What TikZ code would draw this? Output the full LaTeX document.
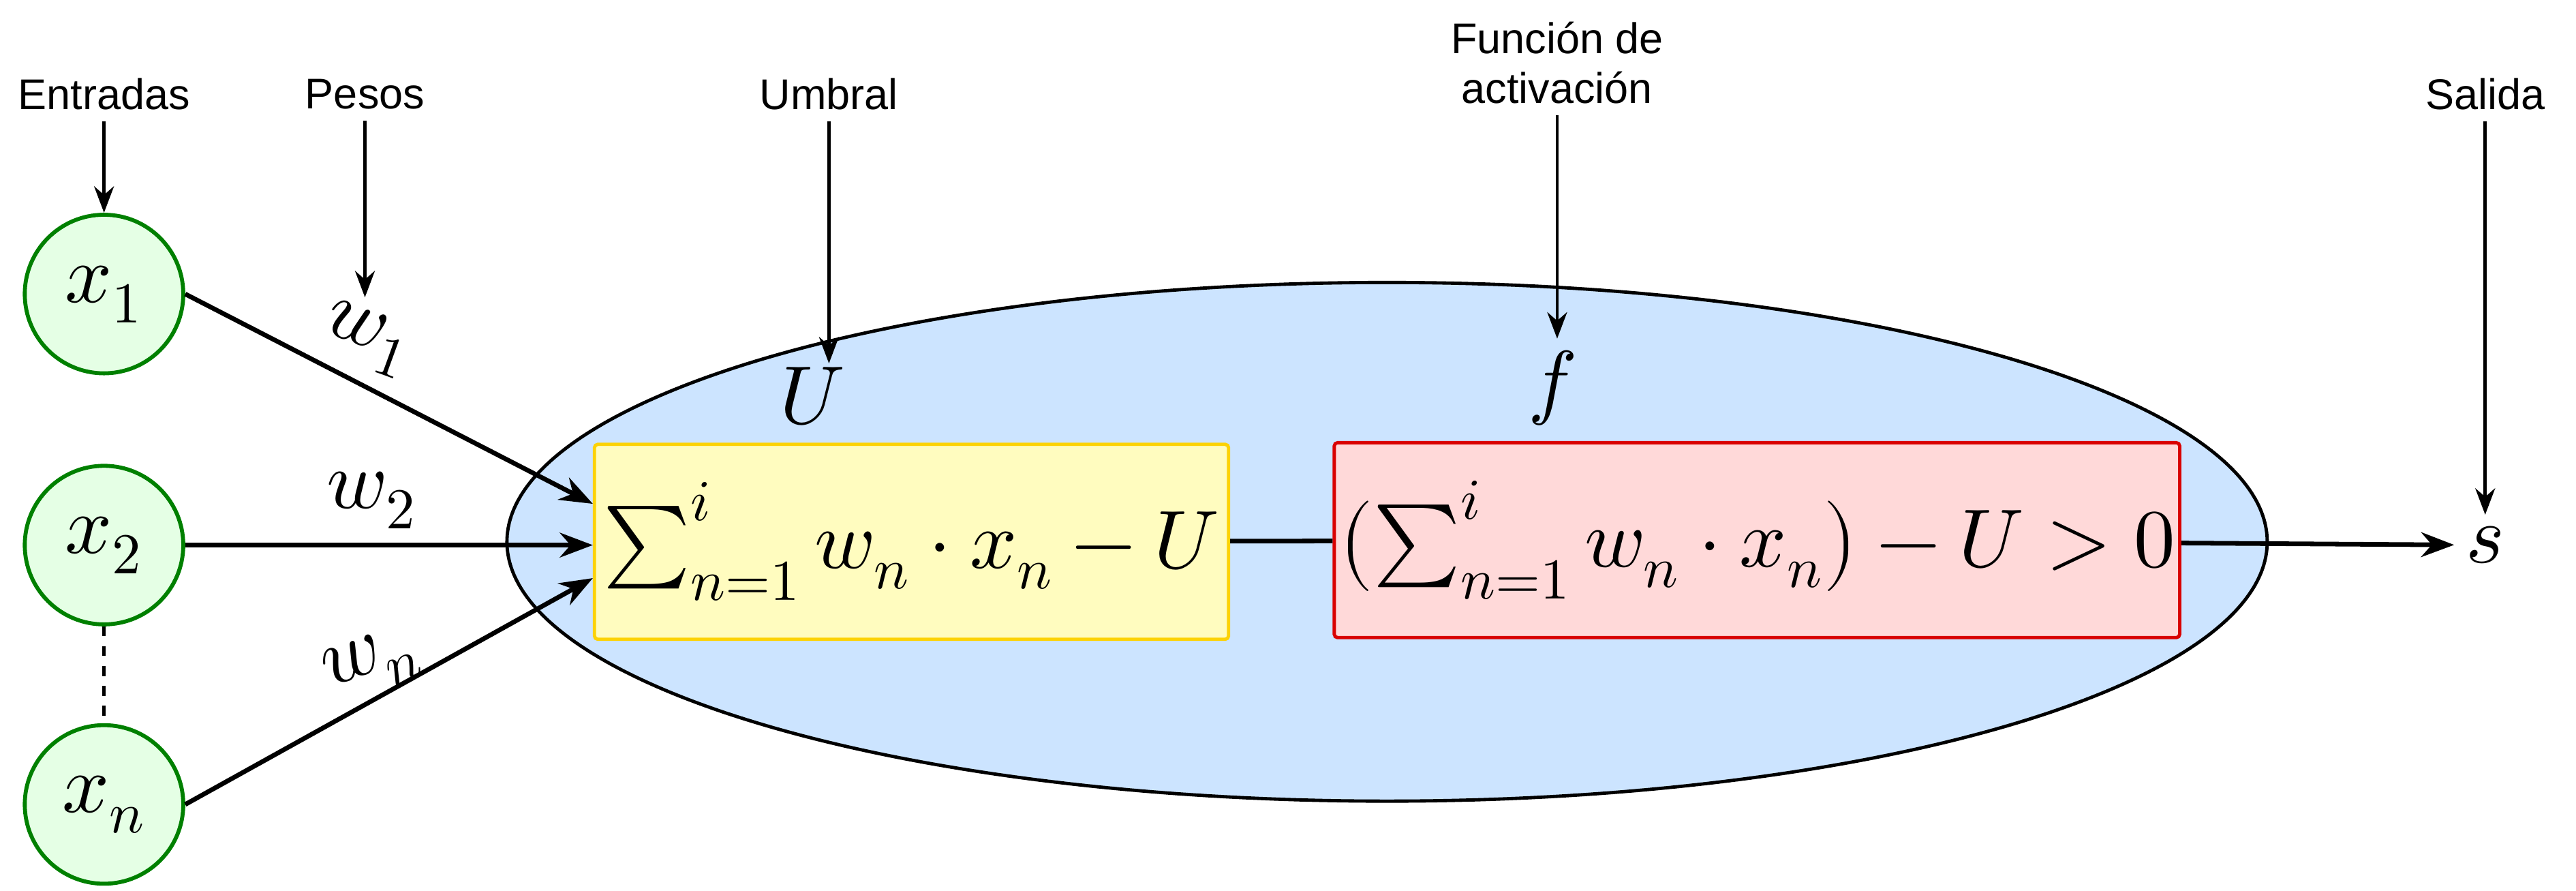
\documentclass[tikz,border=0pt]{standalone}
\usepackage{fontspec}
\setmainfont{Liberation Sans}
\usepackage{unicode-math}
\setmathfont{Latin Modern Math}
\usetikzlibrary{arrows.meta}
\definecolor{cellblue}{RGB}{204,228,255}
\begin{document}
\begin{tikzpicture}[x=0.5pt, y=-0.5pt]
    \tikzset{
        inp/.style={circle, draw=green!50!black, fill=green!10, line width=1.2pt, minimum size=48pt, inner sep=0pt, font=\fontsize{25}{27}\selectfont},
        lbl/.style={font=\fontsize{13}{15}\selectfont, align=center},
        wgt/.style={font=\fontsize{25}{27}\selectfont},
        arr/.style={-{Stealth[length=8pt]}, line width=1pt},
        con/.style={-{Stealth[length=10pt]}, line width=1.4pt}
    }
    \useasboundingbox (0,0) rectangle (1560,539);

    % cell body
    \draw[fill=cellblue, line width=1pt] (840,328) ellipse [x radius=533, y radius=157];
    \node[draw=yellow!70!orange, fill=yellow!25, line width=1pt, minimum width=192pt, minimum height=59pt, rounded corners=1pt] (sum) at (552,328) {};
    \node[font=\fontsize{25}{27}\selectfont] at (552,328) {$\sum_{n=1}^{i} w_n\cdot x_n - U$};
    \node[draw=red!85!black, fill=red!15, line width=1pt, minimum width=256pt, minimum height=59pt, rounded corners=1pt] (act) at (1064,327) {};
    \node[font=\fontsize{25}{27}\selectfont] at (1064,327) {$\bigl(\sum_{n=1}^{i} w_n\cdot x_n\bigr) - U > 0$};

    % inputs
    \node[inp] (x1) at (63,178) {$x_1$};
    \node[inp] (x2) at (63,330) {$x_2$};
    \node[inp] (xn) at (63,487) {$x_n$};
    \draw[dashed, line width=1pt] (x2) -- (xn);

    % weights
    \node[wgt, rotate=-20] (w1) at (222,205) {$w_1$};
    \node[wgt] (w2) at (225,303) {$w_2$};
    \node[wgt, rotate=20] (wn) at (225,402) {$w_n$};
    \node[wgt] (U) at (492,240) {$U$};
    \node[wgt] (f) at (940,235) {$f$};
    \node[wgt] (s) at (1505,330) {$s$};

    % annotations
    \node[lbl] (ent) at (63,57) {Entradas};
    \node[lbl] (pes) at (221,57) {Pesos};
    \node[lbl] (umb) at (502,57) {Umbral};
    \node[lbl] (fun) at (943,38) {Función de\\activación};
    \node[lbl] (sal) at (1505,57) {Salida};

    % annotation arrows
    \draw[arr] (ent) -- (x1);
    \draw[arr] (pes) -- (221,180);
    \draw[arr] (umb) -- (502,220);
    \draw[arr] (fun) -- (943,205);
    \draw[arr] (sal) -- (s);

    % connections
    \draw[con] (x1.east) -- (sum.west |- 0,305);
    \draw[con] (x2) -- (sum.west |- 0,330);
    \draw[con] (xn.east) -- (sum.west |- 0,350);
    \draw[line width=1.4pt] (sum) -- (act);
    \draw[con] (act) -- (s);
\end{tikzpicture}
\end{document}
